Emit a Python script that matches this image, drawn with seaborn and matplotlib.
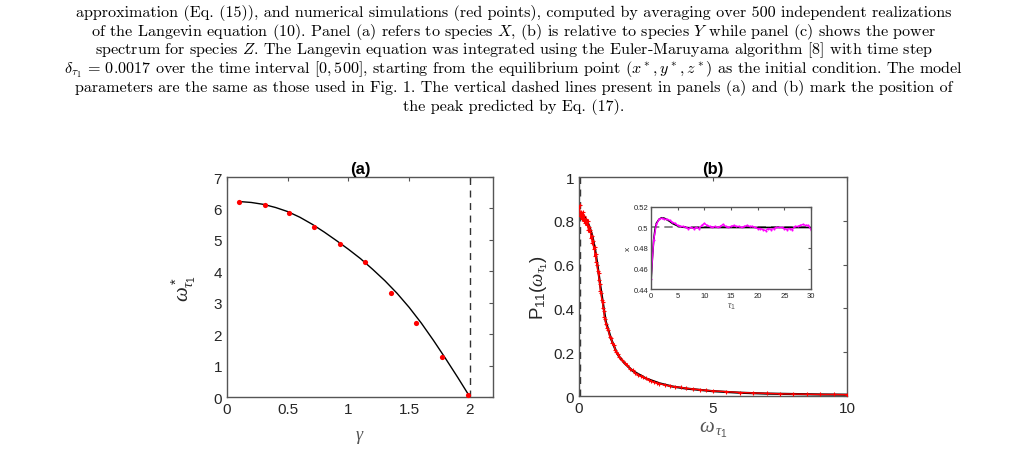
import matplotlib
matplotlib.use('Agg')
import matplotlib.pyplot as plt
import seaborn as sns
import numpy as np
import pandas as pd

# ── Data ───────────────────────────────────────────────────────────────────────
# panel (a): peak frequency vs gamma
gamma_sim = [0.10, 0.31, 0.51, 0.72, 0.93, 1.14, 1.35, 1.56, 1.77, 1.98]
omega_sim = [6.20, 6.12, 5.87, 5.42, 4.88, 4.28, 3.30, 2.35, 1.28, 0.05]
gamma_th = [0.1, 0.2, 0.3, 0.4, 0.5, 0.6, 0.7, 0.8, 0.9, 1.0,
            1.1, 1.2, 1.3, 1.4, 1.5, 1.6, 1.7, 1.8, 1.9, 2.0]
omega_th = [6.22, 6.19, 6.13, 6.03, 5.90, 5.72, 5.50, 5.25, 4.98, 4.70,
            4.40, 4.06, 3.70, 3.30, 2.85, 2.35, 1.80, 1.22, 0.62, 0.00]
gamma_peak = 2.0

# panel (b): power spectrum P11
w_th = [0.0, 0.2, 0.3, 0.4, 0.5, 0.6, 0.7, 0.8, 0.9, 1.0, 1.1, 1.2, 1.3,
        1.4, 1.5, 1.7, 2.0, 2.5, 3.0, 3.5, 4.0, 5.0, 6.0, 7.0, 8.0, 9.0, 10.0]
p_th = [0.83, 0.82, 0.80, 0.77, 0.73, 0.67, 0.59, 0.50, 0.42, 0.34, 0.30, 0.26, 0.23,
        0.20, 0.18, 0.15, 0.115, 0.080, 0.058, 0.043, 0.034, 0.022, 0.015, 0.011,
        0.009, 0.007, 0.006]
w_sim = [0.02, 0.05, 0.08, 0.10, 0.12, 0.15, 0.18, 0.20, 0.23, 0.25, 0.28, 0.30,
         0.33, 0.35, 0.38, 0.40, 0.43, 0.45, 0.48, 0.50, 0.53, 0.55, 0.58, 0.60,
         0.63, 0.65, 0.68, 0.70, 0.73, 0.75, 0.78, 0.80, 0.83, 0.85, 0.88, 0.90,
         0.93, 0.95, 0.98, 1.00, 1.05, 1.10, 1.15, 1.20, 1.25, 1.30, 1.35, 1.40,
         1.45, 1.50, 1.60, 1.70, 1.80, 1.90, 2.00, 2.10, 2.20, 2.30, 2.40, 2.50,
         2.60, 2.70, 2.80, 2.90, 3.00, 3.20, 3.40, 3.60, 3.80, 4.00, 4.25, 4.50,
         4.75, 5.00, 5.50, 6.00, 6.50, 7.00, 7.50, 8.00, 8.50, 9.00, 9.50, 10.00]
p_sim = [0.87, 0.82, 0.84, 0.81, 0.83, 0.84, 0.80, 0.82, 0.79, 0.81, 0.80, 0.78,
         0.80, 0.76, 0.77, 0.75, 0.76, 0.72, 0.73, 0.70, 0.71, 0.67, 0.68, 0.64,
         0.65, 0.61, 0.60, 0.57, 0.56, 0.53, 0.51, 0.48, 0.47, 0.44, 0.43, 0.40,
         0.39, 0.36, 0.35, 0.33, 0.31, 0.30, 0.27, 0.265, 0.24, 0.235, 0.21, 0.20,
         0.19, 0.18, 0.165, 0.15, 0.14, 0.125, 0.117, 0.105, 0.098, 0.090, 0.086,
         0.080, 0.074, 0.068, 0.064, 0.060, 0.057, 0.051, 0.046, 0.042, 0.039,
         0.035, 0.032, 0.029, 0.026, 0.023, 0.020, 0.016, 0.014, 0.012, 0.010,
         0.009, 0.008, 0.007, 0.007, 0.006]
w_peak = 0.02

# inset: x(tau1)
t_sim = [0.0, 0.5, 1.0, 1.5, 2.0, 2.5, 3.0, 3.5, 4.0, 4.5, 5.0, 5.5, 6.0, 6.5,
         7.0, 7.5, 8.0, 8.5, 9.0, 9.5, 10.0, 10.5, 11.0, 11.5, 12.0, 12.5, 13.0,
         13.5, 14.0, 14.5, 15.0, 15.5, 16.0, 16.5, 17.0, 17.5, 18.0, 18.5, 19.0,
         19.5, 20.0, 20.5, 21.0, 21.5, 22.0, 22.5, 23.0, 23.5, 24.0, 24.5, 25.0,
         25.5, 26.0, 26.5, 27.0, 27.5, 28.0, 28.5, 29.0, 29.5, 30.0]
x_sim = [0.450, 0.488, 0.503, 0.508, 0.509, 0.508, 0.508, 0.507, 0.505, 0.504,
         0.502, 0.501, 0.501, 0.500, 0.499, 0.500, 0.499, 0.500, 0.499, 0.502,
         0.504, 0.502, 0.501, 0.500, 0.501, 0.500, 0.501, 0.503, 0.501, 0.500,
         0.501, 0.502, 0.501, 0.501, 0.500, 0.501, 0.502, 0.501, 0.501, 0.500,
         0.499, 0.499, 0.498, 0.497, 0.499, 0.498, 0.499, 0.500, 0.500, 0.500,
         0.499, 0.498, 0.499, 0.498, 0.501, 0.501, 0.502, 0.503, 0.502, 0.502,
         0.498]
t_th = [0, 0.25, 0.5, 0.75, 1, 1.5, 2, 2.5, 3, 3.5, 4, 5, 6, 7, 8, 10, 15, 20, 25, 30]
x_th = [0.448, 0.470, 0.488, 0.498, 0.504, 0.508, 0.5095, 0.509, 0.5075, 0.506,
        0.504, 0.5015, 0.5003, 0.4998, 0.4998, 0.500, 0.500, 0.500, 0.500, 0.500]
x_eq = 0.5

caption = [
    'approximation (Eq. (15)), and numerical simulations (red points), computed by averaging over 500 independent realizations',
    'of the Langevin equation (10). Panel (a) refers to species $X$, (b) is relative to species $Y$ while panel (c) shows the power',
    'spectrum for species $Z$. The Langevin equation was integrated using the Euler-Maruyama algorithm [8] with time step',
    r'$\delta_{\tau_1}$ = 0.0017 over the time interval $[0, 500]$, starting from the equilibrium point $(x^*, y^*, z^*)$ as the initial condition. The model',
    'parameters are the same as those used in Fig. 1. The vertical dashed lines present in panels (a) and (b) mark the position of',
    'the peak predicted by Eq. (17).',
]

# ── Style ──────────────────────────────────────────────────────────────────────
sns.set_style('white')
plt.rcParams['font.family'] = ['Liberation Sans', 'DejaVu Sans']
plt.rcParams['mathtext.fontset'] = 'custom'
plt.rcParams['mathtext.rm'] = 'Liberation Sans'
plt.rcParams['mathtext.it'] = 'Liberation Serif:italic'
plt.rcParams['mathtext.bf'] = 'Liberation Sans:bold'
AX_COL = '#555555'
TXT_COL = '#262626'

fig = plt.figure(figsize=(10.28, 4.77), dpi=100)

def style_axes(ax, size=11):
    for s in ax.spines.values():
        s.set_color(AX_COL)
        s.set_linewidth(1.0)
    ax.tick_params(direction='in', top=True, right=True, length=3,
                   width=0.8, color=AX_COL, labelcolor=TXT_COL, labelsize=size)

# ── Panel (a) ─────────────────────────────────────────────────────────────────
ax1 = fig.add_axes([0.2208, 0.1656, 0.2588, 0.4612])
df_a_th = pd.DataFrame({'gamma': gamma_th, 'omega': omega_th})
df_a_sim = pd.DataFrame({'gamma': gamma_sim, 'omega': omega_sim})
ax1.axvline(gamma_peak, color='#333333', ls=(0, (5, 4)), lw=1.0)
sns.lineplot(data=df_a_th, x='gamma', y='omega', color='black', lw=1.0, ax=ax1)
sns.scatterplot(data=df_a_sim, x='gamma', y='omega', color='red', s=14,
                linewidth=0, ax=ax1, zorder=5, clip_on=False)
ax1.set_xlim(0, 2.19)
ax1.set_ylim(0, 7)
ax1.set_xticks([0, 0.5, 1, 1.5, 2])
ax1.set_xticklabels(['0', '0.5', '1', '1.5', '2'])
ax1.set_yticks(range(8))
ax1.set_xlabel(r'$\gamma$', fontsize=13, color='#555555', labelpad=9)
ax1.set_ylabel(r'$\omega^*_{\tau_1}$', fontsize=15, color=TXT_COL, labelpad=11)
ax1.set_title('(a)', fontsize=12, fontweight='bold', color='black', pad=3)
style_axes(ax1)

# ── Panel (b) ─────────────────────────────────────────────────────────────────
ax2 = fig.add_axes([0.5632, 0.1677, 0.2607, 0.4591])
df_b_th = pd.DataFrame({'w': w_th, 'p': p_th})
df_b_sim = pd.DataFrame({'w': w_sim, 'p': p_sim})
ax2.axvline(w_peak, color='#333333', ls=(0, (5, 4)), lw=1.0)
sns.lineplot(data=df_b_th, x='w', y='p', color='black', lw=1.6, ax=ax2, zorder=2)
sns.lineplot(data=df_b_sim, x='w', y='p', color='red', lw=1.0, ax=ax2, zorder=3,
             marker='+', markersize=3.5, markeredgewidth=0.8, markeredgecolor='red')
ax2.set_xlim(0, 10)
ax2.set_ylim(0, 1)
ax2.set_xticks([0, 5, 10])
ax2.set_yticks([0, 0.2, 0.4, 0.6, 0.8, 1])
ax2.set_yticklabels(['0', '0.2', '0.4', '0.6', '0.8', '1'])
ax2.set_xlabel(r'$\omega_{\,\tau_{1}}$', fontsize=15, color='#555555', labelpad=3)
ax2.set_ylabel(r'P$_{11}$($\omega_{\tau_1}$)', fontsize=13.5, color=TXT_COL, labelpad=2)
ax2.set_title('(b)', fontsize=12, fontweight='bold', color='black', pad=3)
style_axes(ax2)

# ── Inset ─────────────────────────────────────────────────────────────────────
ax3 = fig.add_axes([0.6333, 0.392, 0.1556, 0.172])
df_i_sim = pd.DataFrame({'t': t_sim, 'x': x_sim})
df_i_th = pd.DataFrame({'t': t_th, 'x': x_th})
ax3.axhline(x_eq, color='#777777', ls=(0, (5, 3)), lw=1.2)
sns.lineplot(data=df_i_th, x='t', y='x', color='black', lw=1.2, ax=ax3)
sns.lineplot(data=df_i_sim, x='t', y='x', color='magenta', lw=1.0, ax=ax3,
             marker='.', markersize=3, markeredgewidth=0)
ax3.set_xlim(0, 30)
ax3.set_ylim(0.44, 0.52)
ax3.set_xticks([0, 5, 10, 15, 20, 25, 30])
ax3.set_yticks([0.44, 0.46, 0.48, 0.5, 0.52])
ax3.set_yticklabels(['0.44', '0.46', '0.48', '0.5', '0.52'])
ax3.set_xlabel(r'$\tau_1$', fontsize=7, color='#555555', labelpad=1)
ax3.set_ylabel('x', fontsize=6, color=TXT_COL, labelpad=1)
style_axes(ax3, size=5.5)
ax3.tick_params(length=2, pad=2)

# ── Caption ───────────────────────────────────────────────────────────────────
y0 = 1 - 13 / 477
for i, line in enumerate(caption):
    fig.text(0.5, y0 - i * 18.8 / 477, line, ha='center', va='center',
             fontsize=11.6, family=['cmr10', 'DejaVu Serif'], math_fontfamily='cm',
             color='black')

fig.savefig('out.png', dpi=100)
